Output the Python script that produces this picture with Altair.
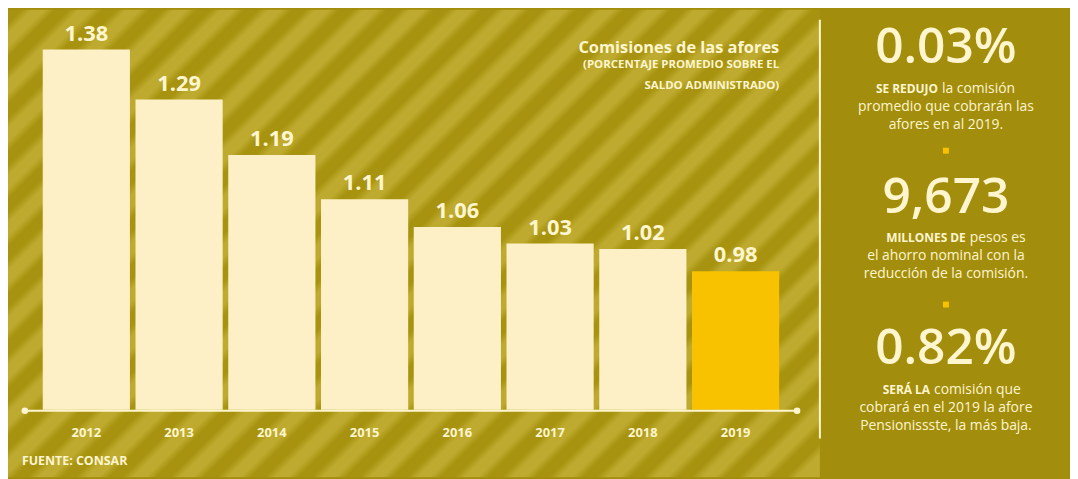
import altair as alt
import pandas as pd

# ---------------- data ----------------
years = ["2012", "2013", "2014", "2015", "2016", "2017", "2018", "2019"]
values = [1.38, 1.29, 1.19, 1.11, 1.06, 1.03, 1.02, 0.98]
value_labels = ["1.38", "1.29", "1.19", "1.11", "1.06", "1.03", "1.02", "0.98"]

title_text = "Comisiones de las afores"
subtitle_lines = ["(PORCENTAJE PROMEDIO SOBRE EL", "SALDO ADMINISTRADO)"]
source_text = "FUENTE: CONSAR"

headlines = ["0.03%", "9,673", "0.82%"]
bold_leads = ["SE REDUJO", "MILLONES DE", "SERÁ LA"]
lead_rests = ["la comisión", "pesos es", "comisión que"]
more_lines = [
    ["promedio que cobrarán las", "afores en al 2019."],
    ["el ahorro nominal con la", "reducción de la comisión."],
    ["cobrará en el 2019 la afore", "Pensionissste, la más baja."],
]

df = pd.DataFrame({"year": years, "value": values, "label": value_labels})

# ---------------- style ----------------
BG = "#a28d0c"
DARK = "#a7930f"
LIGHT = "#bdaa2e"
CREAM = "#fdf0c6"
GOLD = "#f8c200"
TXT = "#fff6cf"
FONT = "Open Sans"

W, H = 1070, 471
ONE = alt.InlineData(values=[{"k": 0}])

# diagonal stripe gradient for the chart area
SW, SH = 818, 471
q = (SW / SH + 1) / ((SW / SH) ** 2 + 1)
p = q * SW / SH
n_periods = 27
P = 1.0 / n_periods
stops = []
k = 0
while k * P < 1:
    for frac, col in [(0.0, DARK), (0.28, DARK), (0.5, LIGHT), (0.78, LIGHT)]:
        off = k * P + frac * P
        if off <= 1:
            stops.append(alt.GradientStop(offset=round(off, 5), color=col))
    k += 1
stripes = alt.Chart(ONE).mark_rect(
    fill=alt.Gradient(gradient="linear", stops=stops, x1=0, y1=0, x2=p, y2=q)
).encode(x=alt.value(0), x2=alt.value(SW), y=alt.value(0), y2=alt.value(SH))

xscale = alt.Scale(domain=years, range=[35, 777], paddingInner=0.06, paddingOuter=0)
yscale = alt.Scale(domain=[0.73, 1.40], range=[403, 29], zero=False, nice=False)

base = alt.Chart(df)
bars = base.mark_bar().encode(
    x=alt.X("year:N", scale=xscale, axis=None),
    y=alt.Y("value:Q", scale=yscale, axis=None),
    y2=alt.Y2(datum=0.73),
    color=alt.Color("year:N", scale=alt.Scale(domain=years, range=[CREAM] * 7 + [GOLD]), legend=None),
)
val_text = base.mark_text(
    font=FONT, fontSize=22, fontWeight="bold", color=TXT, baseline="alphabetic", dy=-9
).encode(
    x=alt.X("year:N", scale=xscale, axis=None),
    y=alt.Y("value:Q", scale=yscale, axis=None),
    text="label:N",
)
year_text = base.mark_text(
    font=FONT, fontSize=13, fontWeight="bold", color=TXT, baseline="middle"
).encode(
    x=alt.X("year:N", scale=xscale, axis=None),
    y=alt.value(426),
    text="year:N",
)

baseline_rule = alt.Chart(ONE).mark_rule(color=TXT, strokeWidth=2).encode(
    x=alt.value(17), x2=alt.value(795), y=alt.value(404)
)
dot_l = alt.Chart(ONE).mark_circle(color=TXT, size=45, opacity=1).encode(x=alt.value(17), y=alt.value(404))
dot_r = alt.Chart(ONE).mark_circle(color=TXT, size=45, opacity=1).encode(x=alt.value(795), y=alt.value(404))

divider = alt.Chart(ONE).mark_rule(color=TXT, strokeWidth=2).encode(
    x=alt.value(818), y=alt.value(10), y2=alt.value(432)
)


def label(text, x, y, size, weight="normal", align="center", baseline="middle", color=TXT):
    return alt.Chart(ONE).mark_text(
        text=text, font=FONT, fontSize=size, fontWeight=weight, align=align,
        baseline=baseline, color=color,
    ).encode(x=alt.value(x), y=alt.value(y))


layers = [stripes, bars, val_text, year_text, baseline_rule, dot_l, dot_r, divider]

# title block
layers.append(label(title_text, 777, 39, 16.5, "bold", "right"))
layers.append(label(subtitle_lines[0], 777, 56, 11.5, "bold", "right"))
layers.append(label(subtitle_lines[1], 777, 77, 11.5, "bold", "right"))
layers.append(label(source_text, 14, 455, 12.5, "bold", "left"))

# right panel
CX = 945
head_base = [54, 205, 357]
lead_y = [80, 230, 383]
bold_right = [937, 965, 929]
rest_left = [941, 969, 933]
for i in range(3):
    layers.append(label(headlines[i], CX, head_base[i], 50, 600, "center", "alphabetic"))
    layers.append(label(bold_leads[i], bold_right[i], lead_y[i], 12, "bold", "right"))
    layers.append(label(lead_rests[i], rest_left[i], lead_y[i], 14, "normal", "left"))
    for j, line in enumerate(more_lines[i]):
        layers.append(label(line, CX, lead_y[i] + 18 * (j + 1), 14))

for yy in [142, 297]:
    layers.append(
        alt.Chart(ONE).mark_square(color=GOLD, size=36, opacity=1).encode(x=alt.value(945), y=alt.value(yy))
    )

chart = alt.layer(*layers).properties(
    width=W, height=H, background=BG, padding=0,
    autosize=alt.AutoSizeParams(type="none"),
).configure_view(stroke=None)

chart.save("out.html", embed_options={"renderer": "svg", "actions": False})
